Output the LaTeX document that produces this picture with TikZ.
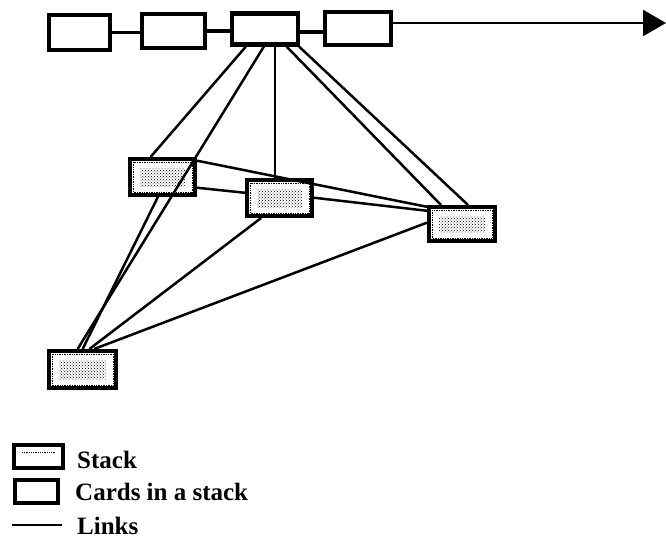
\documentclass[tikz,border=0pt]{standalone}
\usepackage{fontspec}
\setmainfont{Liberation Serif}
\usetikzlibrary{calc,patterns,arrows.meta}

\tikzset{
  card/.style={draw, line width=4.5pt, fill=white, inner sep=0pt},
  stackbox/.style={card,
    path picture={
      \draw[densely dotted, line width=0.7pt]
        ([shift={(3pt,-3pt)}]path picture bounding box.north west) rectangle
        ([shift={(-3pt,3pt)}]path picture bounding box.south east);
      \fill[pattern=crosshatch dots, pattern color=black]
        ([shift={(10pt,-9pt)}]path picture bounding box.north west) rectangle
        ([shift={(-10pt,9pt)}]path picture bounding box.south east);
    }},
  legendstack/.style={card,
    path picture={
      \draw[densely dotted, line width=0.8pt]
        ([shift={(8pt,-7pt)}]path picture bounding box.north west) --
        ([shift={(-8pt,-7pt)}]path picture bounding box.north east);
    }},
  link/.style={line width=2.5pt, line cap=round},
  chain/.style={line width=3.5pt},
  label/.style={anchor=base west, inner sep=0pt,
    font=\fontsize{25}{30}\selectfont\bfseries}
}

\begin{document}
\begin{tikzpicture}[x=1pt, y=-1pt]
\useasboundingbox (0,0) rectangle (666,541);

% cards of the current stack
\node[card, minimum width=61pt, minimum height=35pt] (b1) at (79.5,32.5) {};
\node[card, minimum width=63pt, minimum height=34pt] (b2) at (173.5,31) {};
\node[card, minimum width=66pt, minimum height=31pt] (b3) at (265,29) {};
\node[card, minimum width=66pt, minimum height=33pt] (b4) at (358,28.5) {};
\coordinate (tip) at (666,23);
\coordinate (j34) at ($(b3.east)+(0,3)$);

% stacks
\node[stackbox, minimum width=65pt, minimum height=36pt] (s1) at (162.5,177) {};
\node[stackbox, minimum width=65pt, minimum height=36pt] (s2) at (279.5,198) {};
\node[stackbox, minimum width=66pt, minimum height=34pt] (s3) at (462,224) {};
\node[stackbox, minimum width=67pt, minimum height=37pt] (s4) at (82.5,369.5) {};

% chain of cards
\draw[chain] (b1.east) -- (b1.east -| b2.west);
\draw[chain] (b2.east) -- (b2.east -| b3.west);
\draw[chain] (j34) -- (j34 -| b4.west);
\draw[line width=2.5pt, -{Triangle[length=23pt,width=26pt]}]
  (b4.east |- tip) -- (tip);

% links from the card to the stacks
\draw[link] ($(b3.south west)+(16,0)$) -- ($(s1.north west)+(23,0)$);
\draw[link] ($(b3.south west)+(34,0)$) -- ($(s4.north west)+(31,0)$);
\draw[link] ($(b3.south west)+(45,0)$) -- ($(s2.north west)+(30,0)$);
\draw[link] ($(b3.south west)+(57,0)$) -- ($(s3.north west)+(14,0)$);
\draw[link] ($(b3.south east)+(-1,0)$) -- ($(s3.north west)+(41,0)$);

% links between the stacks
\draw[link] ($(s1.north east)+(0,4)$) -- ($(s3.north west)+(0,2)$);
\draw[link] ($(s1.north east)+(0,31)$) -- ($(s2.north west)+(0,15)$);
\draw[link] ($(s2.north east)+(0,20)$) -- ($(s3.north west)+(0,6)$);
\draw[link] ($(s1.south west)+(30,0)$) -- ($(s4.north west)+(36,0)$);
\draw[link] ($(s2.south west)+(16,0)$) -- ($(s4.north west)+(43,0)$);
\draw[link] ($(s3.north west)+(0,18)$) -- ($(s4.north west)+(48,0)$);

% legend
\node[legendstack, minimum width=49pt, minimum height=23pt] (ls) at (38.5,456.5) {};
\node[card, minimum width=43pt, minimum height=23pt] (lc) at (36.5,491.5) {};
\coordinate (la) at (12,525);
\coordinate (lb) at (62,525);
\draw[line width=2.5pt] (la) -- (lb);
\node[label] (t1) at (77,468) {Stack};
\node[label] (t2) at (75,500) {Cards in a stack};
\node[label] (t3) at (77,534) {Links};
\end{tikzpicture}
\end{document}
